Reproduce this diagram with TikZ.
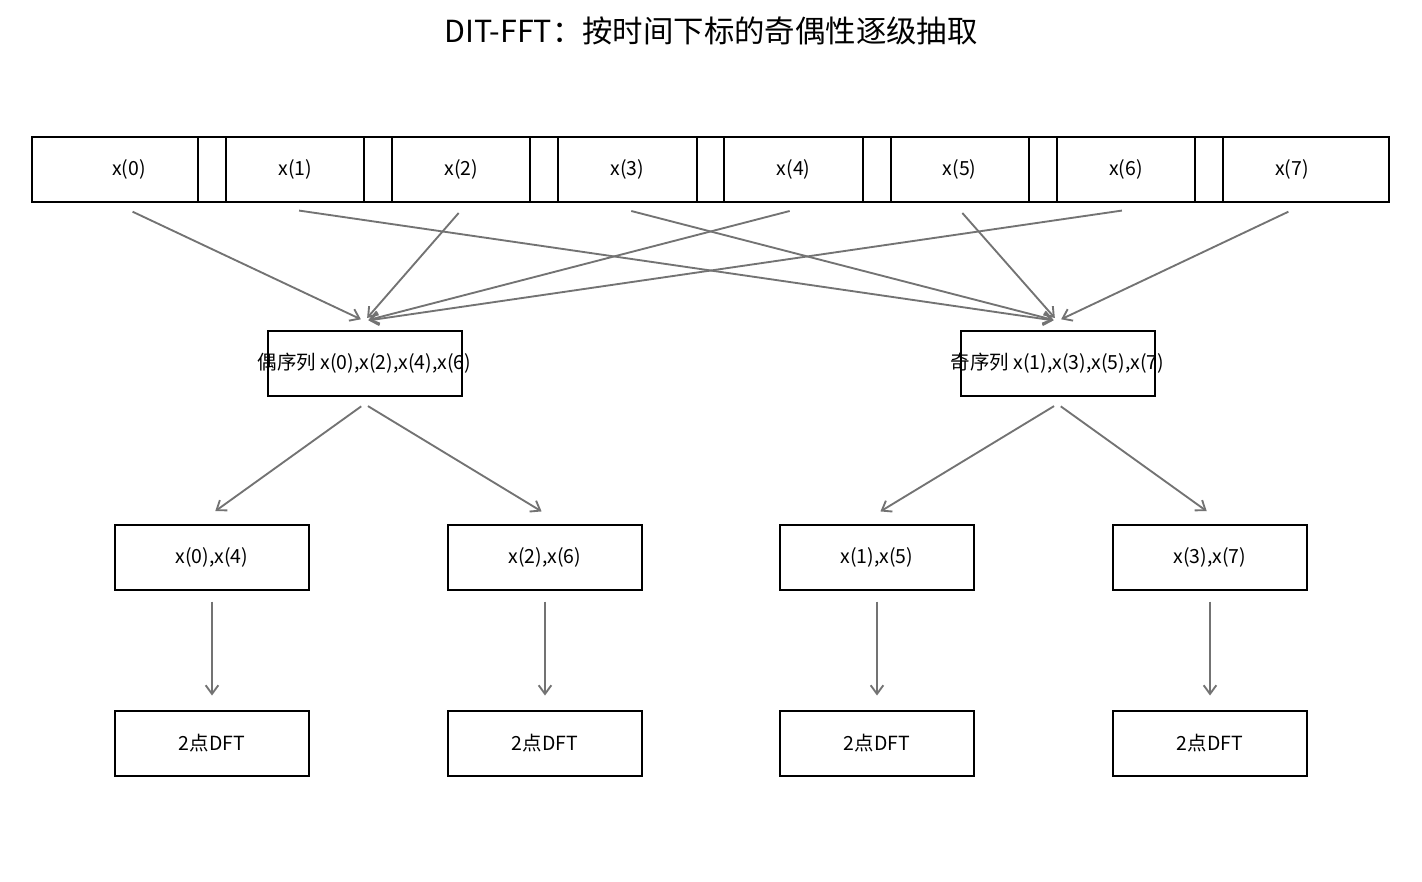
\documentclass[tikz,border=0pt]{standalone}
\usepackage{fontspec}
\setmainfont{Noto Sans CJK SC}
\usetikzlibrary{arrows.meta,calc}
\begin{document}
\begin{tikzpicture}[x=0.75pt,y=-0.75pt,
  font=\fontsize{14.6}{17}\selectfont,
  box/.style={draw=black,line width=1.5pt,rectangle,inner sep=0pt,
    minimum width=145.5pt,minimum height=48.75pt},
  arr/.style={draw=black!55,line width=1.4pt,
    -{Straight Barb[length=6.5pt,width=9.5pt]},shorten <=3pt,shorten >=3pt}]
\useasboundingbox (0,0) rectangle (1422,882);
\node[font=\fontsize{22.8}{28}\selectfont] (title) at (711,31) {DIT-FFT：按时间下标的奇偶性逐级抽取};
\foreach \i in {0,...,7}
  \node[box] (t\i) at ({129+166.14*\i},169.5) {x(\i)};
\node[box,label={center:偶序列\ x(0),x(2),x(4),x(6)}] (even) at (364.5,363.5) {};
\node[box,label={center:奇序列\ x(1),x(3),x(5),x(7)}] (odd) at (1057.5,363.5) {};
\node[box] (c04) at (212,557) {x(0),x(4)};
\node[box] (c26) at (545,557) {x(2),x(6)};
\node[box] (c15) at (877,557) {x(1),x(5)};
\node[box] (c37) at (1210,557) {x(3),x(7)};
\node[box] (d04) at (212,743) {2点DFT};
\node[box] (d26) at (545,743) {2点DFT};
\node[box] (d15) at (877,743) {2点DFT};
\node[box] (d37) at (1210,743) {2点DFT};
\foreach \i in {0,2,4,6}
  \draw[arr] ($(t\i.south)+(0,7)$) -- ($(even.north)+(0,-9)$);
\foreach \i in {1,3,5,7}
  \draw[arr] ($(t\i.south)+(0,7)$) -- ($(odd.north)+(0,-9)$);
\foreach \p/\c in {even/c04,even/c26,odd/c15,odd/c37}
  \draw[arr] ($(\p.south)+(0,7)$) -- ($(\c.north)+(0,-10)$);
\foreach \c/\d in {c04/d04,c26/d26,c15/d15,c37/d37}
  \draw[arr] ($(\c.south)+(0,7)$) -- ($(\d.north)+(0,-10)$);
\end{tikzpicture}
\end{document}
